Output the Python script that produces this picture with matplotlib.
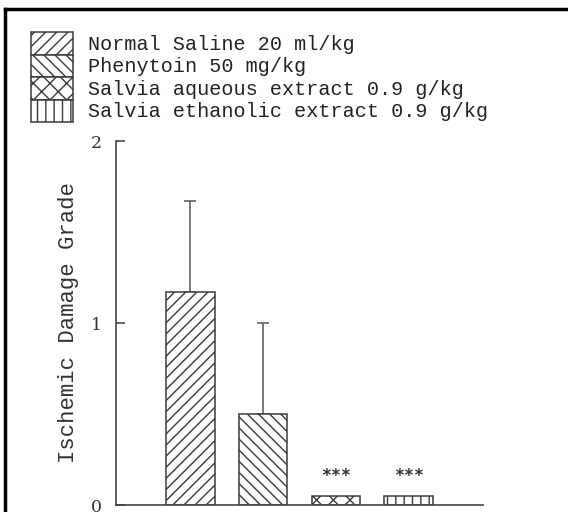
import matplotlib
matplotlib.use("Agg")
import matplotlib.pyplot as plt
from matplotlib.lines import Line2D

labels = ["Normal Saline 20 ml/kg", "Phenytoin 50 mg/kg",
          "Salvia aqueous extract 0.9 g/kg", "Salvia ethanolic extract 0.9 g/kg"]
means = [1.17, 0.50, 0.05, 0.05]
errors = [0.50, 0.50, 0.0, 0.0]
signif = ["", "", "***", "***"]
hatches = ["///", "\\\\\\", "xx", "||"]
yticks = [0, 1, 2]

plt.rcParams['font.family'] = ['Liberation Mono', 'DejaVu Sans Mono']
plt.rcParams['hatch.linewidth'] = 1.0
plt.rcParams['hatch.color'] = '#333333'

W, H = 568, 512
fig = plt.figure(figsize=(W / 100, H / 100), dpi=100)
ax = fig.add_axes([116 / W, 1 - 505 / H, (483 - 116) / W, (505 - 141) / H])

ec = '#3a3a3a'
bars = []
for i, (m, e, h, lab) in enumerate(zip(means, errors, hatches, labels)):
    b = ax.bar(i, m, width=0.67, facecolor='white', edgecolor=ec, hatch=h,
               linewidth=1.1, label=lab, zorder=2)
    bars.append(b)
    if e > 0:
        ax.errorbar(i, m, yerr=[[0], [e]], fmt='none', ecolor='#555555',
                    elinewidth=1.1, capsize=4.5, capthick=1.1, zorder=1)
    if signif[i]:
        ax.annotate(signif[i], (i, m), xytext=(0, 10.5), textcoords='offset points',
                    ha='center', va='baseline', fontsize=12, color='#333333',
                    family='DejaVu Sans Mono', fontweight='bold')

ax.set_xlim(-1.02, 4.02)
ax.set_ylim(0, 2)
ax.set_yticks(yticks)
ax.set_yticklabels([str(t) for t in yticks], family='DejaVu Serif')
ax.set_xticks([])
for s in ['top', 'right']:
    ax.spines[s].set_visible(False)
for s in ['left', 'bottom']:
    ax.spines[s].set_color('#444444')
    ax.spines[s].set_linewidth(1.2)
ax.tick_params(axis='y', direction='in', length=6.5, width=1.2, color='#444444',
               labelsize=12.5, labelcolor='#333333', pad=10)
ax.set_ylabel("Ischemic Damage Grade", fontsize=16, color='#333333', labelpad=8.5)

fs = 14.5
fpx = fs * 100 / 72
hh = (22.5 / fpx - 0.245) / 0.65
fig.legend(handles=bars, labels=labels, loc='upper left',
           bbox_to_anchor=(31 / W, 1 - 32 / H), bbox_transform=fig.transFigure,
           frameon=False, fontsize=fs, borderpad=0, borderaxespad=0,
           handlelength=42 / fpx, handleheight=hh,
           labelspacing=0.0, handletextpad=15 / fpx, labelcolor='#222222')

# page frame lines (left and top)
fig.add_artist(Line2D([5 / W, 5 / W], [0, 1 - 9 / H], transform=fig.transFigure,
                      color='black', linewidth=2.5))
fig.add_artist(Line2D([5 / W, 1], [1 - 9 / H, 1 - 9 / H], transform=fig.transFigure,
                      color='black', linewidth=2.5))

fig.savefig("out.png", dpi=100)
